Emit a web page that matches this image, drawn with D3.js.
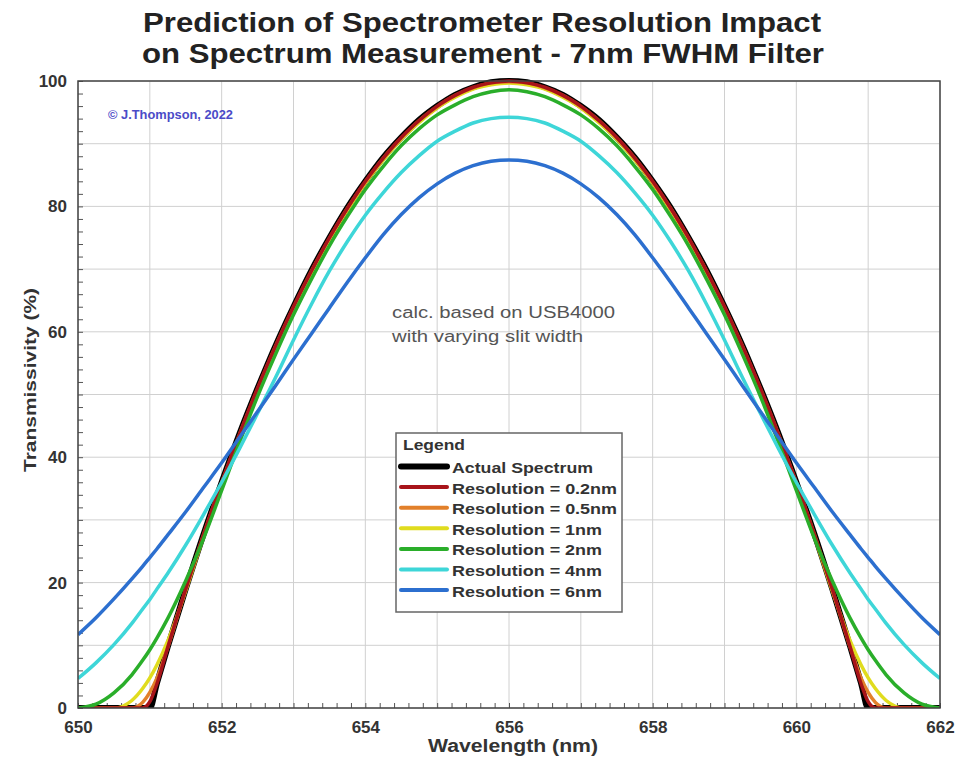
<!DOCTYPE html>
<html><head><meta charset="utf-8">
<script src="https://cdn.jsdelivr.net/npm/d3@7"></script>
<style>body{margin:0;background:#fff} svg{display:block} text{font-family:"Liberation Sans",Arial,sans-serif}</style>
</head><body><svg id="c" width="957" height="762"></svg>
<script>
// ---------- data ----------
const wavelengths = [650,650.25,650.5,650.75,650.9,651,651.1,651.25,651.5,651.75,652,652.25,652.5,652.75,653,653.25,653.5,653.75,654,654.25,654.5,654.75,655,655.25,655.5,655.75,656,
  656.25,656.5,656.75,657,657.25,657.5,657.75,658,658.25,658.5,658.75,659,659.25,659.5,659.75,660,660.25,660.5,660.75,660.9,661,661.1,661.25,661.5,661.75,662];

const actualSpectrum = [0,0,0,0,0,0,4.0,9.8,19,27.8,36,43.8,51,57.8,64,69.8,75,79.8,84,87.8,91,93.8,96,97.8,99,99.8,100,
  99.8,99,97.8,96,93.8,91,87.8,84,79.8,75,69.8,64,57.8,51,43.8,36,27.8,19,9.8,4.0,0,0,0,0,0,0];
const res02 = [0,0,0,0,0,1.0,3.9,9.7,19,27.7,36,43.7,51,57.7,64,69.7,75,79.7,84,87.7,91,93.7,96,97.7,99,99.7,100,
  99.7,99,97.7,96,93.7,91,87.7,84,79.7,75,69.7,64,57.7,51,43.7,36,27.7,19,9.7,3.9,1.0,0,0,0,0,0];
const res05 = [0,0,0,0,0.9,2.5,4.8,9.7,18.9,27.7,35.9,43.7,50.9,57.7,63.9,69.7,74.9,79.7,83.9,87.7,90.9,93.7,95.9,97.7,98.9,99.7,99.9,
  99.7,98.9,97.7,95.9,93.7,90.9,87.7,83.9,79.7,74.9,69.7,63.9,57.7,50.9,43.7,35.9,27.7,18.9,9.7,4.8,2.5,0.9,0,0,0,0];
const res1 = [0,0,0,1.2,3.1,4.8,6.9,10.7,18.7,27.4,35.7,43.4,50.7,57.4,63.7,69.4,74.7,79.4,83.7,87.4,90.7,93.4,95.7,97.4,98.7,99.4,99.7,
  99.4,98.7,97.4,95.7,93.4,90.7,87.4,83.7,79.4,74.7,69.4,63.7,57.4,50.7,43.4,35.7,27.4,18.7,10.7,6.9,4.8,3.1,1.2,0,0,0];
const res2 = [0,0.6,2.4,5.3,7.6,9.3,11.2,14.3,20.3,27.1,34.7,42.4,49.7,56.4,62.7,68.4,73.7,78.4,82.7,86.4,89.7,92.4,94.6,96.2,97.5,98.3,98.6,
  98.3,97.5,96.2,94.6,92.4,89.7,86.4,82.7,78.4,73.7,68.4,62.7,56.4,49.7,42.4,34.7,27.1,20.3,14.3,11.2,9.3,7.6,5.3,2.4,0.6,0];
const res4 = [4.7,7.2,10.1,13.5,15.8,17.3,19.0,21.5,26.0,30.9,36.0,41.4,47.0,52.7,58.7,64.4,69.7,74.4,78.6,82.2,85.4,88.1,90.4,92.0,93.3,94.0,94.2,
  94.0,93.3,92.0,90.4,88.1,85.4,82.2,78.6,74.4,69.7,64.4,58.7,52.7,47.0,41.4,36.0,30.9,26.0,21.5,19.0,17.3,15.8,13.5,10.1,7.2,4.7];
const res6 = [11.7,14.4,17.4,20.6,22.6,24.0,25.4,27.6,31.3,35.2,39.1,43.2,47.3,51.4,55.6,59.7,63.8,67.9,71.8,75.5,78.7,81.4,83.6,85.3,86.5,87.2,87.4,
  87.2,86.5,85.3,83.6,81.4,78.7,75.5,71.8,67.9,63.8,59.7,55.6,51.4,47.3,43.2,39.1,35.2,31.3,27.6,25.4,24.0,22.6,20.6,17.4,14.4,11.7];

const seriesNames = ["Actual Spectrum","Resolution = 0.2nm","Resolution = 0.5nm","Resolution = 1nm","Resolution = 2nm","Resolution = 4nm","Resolution = 6nm"];
const seriesValues = [actualSpectrum,res02,res05,res1,res2,res4,res6];
const seriesColors = ["#000000","#a8141a","#e2802a","#e0dc1e","#2aae2a","#3ed6d8","#2c6fcf"];
const xTickLabels = [650,652,654,656,658,660,662];
const yTickLabels = [0,20,40,60,80,100];
const titleLines = ["Prediction of Spectrometer Resolution Impact","on Spectrum Measurement - 7nm FWHM Filter"];
const noteLines = ["calc. based on USB4000","with varying slit width"];
const copyright = "\u00A9 J.Thompson, 2022";

// ---------- chart ----------
const svg = d3.select("#c");
const L=78,R=940,T=81,B=708;
const x = d3.scaleLinear().domain([650,662]).range([L,R]);
const y = d3.scaleLinear().domain([0,100]).range([B,T]);

// grid
svg.append("g").selectAll("line").data(x.ticks(12)).join("line")
  .attr("x1",d=>x(d)).attr("x2",d=>x(d)).attr("y1",T).attr("y2",B)
  .attr("stroke","#d0d0d0").attr("stroke-width",1);
svg.append("g").selectAll("line").data(y.ticks(10)).join("line")
  .attr("y1",d=>y(d)).attr("y2",d=>y(d)).attr("x1",L).attr("x2",R)
  .attr("stroke","#d0d0d0").attr("stroke-width",1);

// minor ticks
const minorX = d3.range(0,61).map(i=>650+i*0.2);
const minorY = d3.range(0,51).map(i=>i*2);
svg.append("g").attr("transform",`translate(0,${B})`)
  .call(d3.axisBottom(x).tickValues(minorX).tickSize(-5).tickFormat(""))
  .call(a=>a.select(".domain").remove())
  .selectAll("line").attr("stroke","#555");
svg.append("g").attr("transform",`translate(${L},0)`)
  .call(d3.axisLeft(y).tickValues(minorY).tickSize(-5).tickFormat(""))
  .call(a=>a.select(".domain").remove())
  .selectAll("line").attr("stroke","#555");

// tick labels
const xa = svg.append("g").attr("transform",`translate(0,${B})`)
  .call(d3.axisBottom(x).tickValues(xTickLabels).tickSize(0).tickPadding(13).tickFormat(d3.format("d")));
xa.select(".domain").remove();
xa.selectAll("text").attr("font-size",17).attr("font-weight","bold").attr("fill","#333")
  .style("font-family",'"Liberation Sans",Arial,sans-serif');
const ya = svg.append("g").attr("transform",`translate(${L},0)`)
  .call(d3.axisLeft(y).tickValues(yTickLabels).tickSize(0).tickPadding(11).tickFormat(d3.format("d")));
ya.select(".domain").remove();
ya.selectAll("text").attr("font-size",17).attr("font-weight","bold").attr("fill","#333")
  .style("font-family",'"Liberation Sans",Arial,sans-serif');

// curves
const line = d3.line().x((d,i)=>x(wavelengths[i])).y(d=>y(d)).curve(d3.curveMonotoneX);
const drawOrder = [0,3,2,1,4,5,6];
svg.append("clipPath").attr("id","clip").append("rect").attr("x",L).attr("y",T-4).attr("width",R-L).attr("height",B-T+4);
const cg = svg.append("g").attr("clip-path","url(#clip)");
drawOrder.forEach(k=>{
  cg.append("path").attr("d",line(seriesValues[k])).attr("fill","none")
    .attr("stroke",seriesColors[k]).attr("stroke-width",k===0?6:3.5)
    .attr("stroke-linejoin","round");
});

// frame
svg.append("rect").attr("x",L).attr("y",T).attr("width",R-L).attr("height",B-T)
  .attr("fill","none").attr("stroke","#444").attr("stroke-width",1.5);

// title
const tlen=[678,682], tbase=[32,63], tx=[143,142];
titleLines.forEach((t,i)=>{
  svg.append("text").attr("x",tx[i]).attr("y",tbase[i]).attr("font-size",27).attr("font-weight","bold")
    .attr("fill","#222").attr("textLength",tlen[i]).attr("lengthAdjust","spacingAndGlyphs").text(t);
});

// axis titles
svg.append("text").attr("x",428).attr("y",752).attr("font-size",18).attr("font-weight","bold").attr("fill","#333")
  .attr("textLength",170).attr("lengthAdjust","spacingAndGlyphs").text("Wavelength (nm)");
svg.append("text").attr("transform","translate(36,472) rotate(-90)").attr("x",0).attr("y",0)
  .attr("font-size",17).attr("font-weight","bold").attr("fill","#333")
  .attr("textLength",184).attr("lengthAdjust","spacingAndGlyphs").text("Transmissivity (%)");

// copyright
svg.append("text").attr("x",108).attr("y",119).attr("font-size",12).attr("font-weight","bold")
  .attr("fill","#4b4bc8").attr("textLength",125).attr("lengthAdjust","spacingAndGlyphs").text(copyright);

// note
const nlen=[223,191], nbase=[318,342];
noteLines.forEach((t,i)=>{
  svg.append("text").attr("x",392).attr("y",nbase[i]).attr("font-size",16).attr("fill","#555")
    .attr("textLength",nlen[i]).attr("lengthAdjust","spacingAndGlyphs").text(t);
});

// legend
const lg = svg.append("g");
lg.append("rect").attr("x",396).attr("y",433).attr("width",226).attr("height",179)
  .attr("fill","#fff").attr("stroke","#666").attr("stroke-width",1.5);
lg.append("text").attr("x",403).attr("y",450).attr("font-size",15).attr("font-weight","bold").attr("fill","#333")
  .attr("textLength",62).attr("lengthAdjust","spacingAndGlyphs").text("Legend");
const legLen=[141,165,165,150,150,150,150];
seriesNames.forEach((n,i)=>{
  const by = 473 + i*20.6;
  lg.append("line").attr("x1",401).attr("x2",447).attr("y1",by-6.5).attr("y2",by-6.5)
    .attr("stroke",seriesColors[i]).attr("stroke-width",i===0?6:4).attr("stroke-linecap","round");
  lg.append("text").attr("x",452).attr("y",by).attr("font-size",15).attr("font-weight","bold").attr("fill","#333")
    .attr("textLength",legLen[i]).attr("lengthAdjust","spacingAndGlyphs").text(n);
});
</script></body></html>
